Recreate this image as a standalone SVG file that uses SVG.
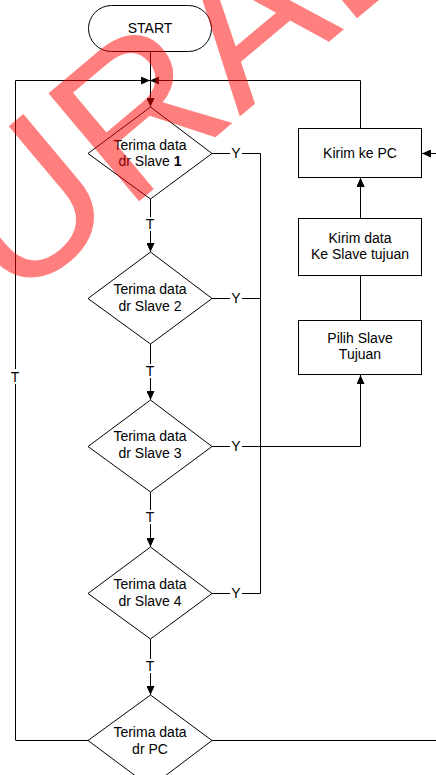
<svg xmlns="http://www.w3.org/2000/svg" width="436" height="775" viewBox="0 0 436 775">
<style>
  .shape{fill:#fff;stroke:#000;stroke-width:1}
  .ln{fill:none;stroke:#000;stroke-width:1}
  .t{font-family:"Liberation Sans",Arial,sans-serif;font-size:14px;fill:#000;text-anchor:middle}
  .wm{font-family:"Liberation Sans",Arial,sans-serif;font-size:205px;fill:#ff0000}
</style>
<defs>
  <marker id="ah" markerWidth="9" markerHeight="8" viewBox="0 0 9 8" refX="9" refY="4" orient="auto" markerUnits="userSpaceOnUse">
    <path d="M0,0 L9,4 L0,8 z" fill="#000"/>
  </marker>
</defs>
<rect width="436" height="775" fill="#fff"/>

<g id="connectors">
  <path class="ln" d="M150.5,52 V107" marker-end="url(#ah)"/>
  <path class="ln" d="M15.5,740 V80.5 H150" marker-end="url(#ah)"/>
  <path class="ln" d="M360.5,128 V80.5 H150" marker-end="url(#ah)"/>
  <path class="ln" d="M150.5,199 V217"/>
  <path class="ln" d="M150.5,231 V252" marker-end="url(#ah)"/>
  <path class="ln" d="M150.5,344 V364"/>
  <path class="ln" d="M150.5,378 V400" marker-end="url(#ah)"/>
  <path class="ln" d="M150.5,492 V510"/>
  <path class="ln" d="M150.5,524 V547" marker-end="url(#ah)"/>
  <path class="ln" d="M150.5,639 V659"/>
  <path class="ln" d="M150.5,673 V695" marker-end="url(#ah)"/>
  <path class="ln" d="M212,153.5 H230 M242,153.5 H260.5 V593.5 H242 M230,593.5 H212"/>
  <path class="ln" d="M212,298.5 H230 M242,298.5 H260.5"/>
  <path class="ln" d="M212,446.5 H230"/>
  <path class="ln" d="M242,446.5 H360.5 V375" marker-end="url(#ah)"/>
  <path class="ln" d="M360.5,320 V178" marker-end="url(#ah)"/>
  <path class="ln" d="M360.5,218 V178" marker-end="url(#ah)"/>
  <path class="ln" d="M436,153.5 H422" marker-end="url(#ah)"/>
  <path class="ln" d="M88,740.5 H15.5"/>
  <path class="ln" d="M212,740.5 H436"/>
  <text class="t" x="150" y="229">T</text>
  <text class="t" x="150" y="376">T</text>
  <text class="t" x="150" y="522">T</text>
  <text class="t" x="150" y="671">T</text>
  <text class="t" x="236" y="158">Y</text>
  <text class="t" x="236" y="303">Y</text>
  <text class="t" x="236" y="451">Y</text>
  <text class="t" x="236" y="598">Y</text>
  <rect x="10" y="369" width="11" height="15" fill="#fff"/>
  <text class="t" x="15" y="382">T</text>
</g>

<g id="start">
  <rect class="shape" x="88.5" y="5.5" width="123" height="46" rx="23" ry="23"/>
  <text class="t" x="150" y="33">START</text>
</g>

<g id="d1">
  <polygon class="shape" points="150.5,107 212,153.5 150.5,199 88,153.5"/>
  <text class="t" x="150" y="150">Terima data</text>
  <text class="t" x="150" y="166">dr Slave <tspan font-weight="bold">1</tspan></text>
</g>
<g id="d2">
  <polygon class="shape" points="150.5,252 212,298.5 150.5,344 88,298.5"/>
  <text class="t" x="150" y="294">Terima data</text>
  <text class="t" x="150" y="311">dr Slave 2</text>
</g>
<g id="d3">
  <polygon class="shape" points="150.5,400 212,446.5 150.5,492 88,446.5"/>
  <text class="t" x="150" y="441">Terima data</text>
  <text class="t" x="150" y="458">dr Slave 3</text>
</g>
<g id="d4">
  <polygon class="shape" points="150.5,547 212,593.5 150.5,639 88,593.5"/>
  <text class="t" x="150" y="589">Terima data</text>
  <text class="t" x="150" y="606">dr Slave 4</text>
</g>
<g id="d5">
  <polygon class="shape" points="150.5,695 212,740.5 150.5,787 88,740.5"/>
  <text class="t" x="150" y="737">Terima data</text>
  <text class="t" x="150" y="754">dr PC</text>
</g>

<g id="kirimPC">
  <rect class="shape" x="298.5" y="128.5" width="123" height="49"/>
  <text class="t" x="360" y="158">Kirim ke PC</text>
</g>
<g id="kirimData">
  <rect class="shape" x="298.5" y="218.5" width="123" height="57"/>
  <text class="t" x="360" y="243">Kirim data</text>
  <text class="t" x="360" y="259">Ke Slave tujuan</text>
</g>
<g id="pilihSlave">
  <rect class="shape" x="298.5" y="320.5" width="123" height="54"/>
  <text class="t" x="360" y="343">Pilih Slave</text>
  <text class="t" x="360" y="359">Tujuan</text>
</g>

<g id="watermark" opacity="0.5">
  <text class="wm" transform="translate(-92,395) rotate(-40)">SURABAYA</text>
</g>
</svg>
